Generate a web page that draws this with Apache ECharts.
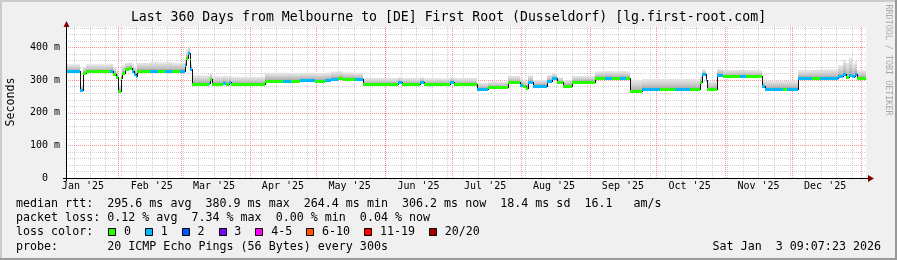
<!DOCTYPE html>
<html><head><meta charset="utf-8">
<script src="https://cdn.jsdelivr.net/npm/echarts@6/dist/echarts.min.js"></script>
<style>html,body{margin:0;padding:0;background:#f0f0f0;}#c{width:897px;height:260px;}</style>
</head><body><div id="c"></div>
<script>
// ---------- data ----------
// segment start, in days from the start of the 360-day window
const segDay = [0,6.1,7.7,9.0,19.8,21.2,22.3,23.4,24.8,25.4,26.6,28.4,29.7,30.6,31.3,32.0,37.8,41.4,44.6,47.7,51.3,53.6,54.2,54.9,55.6,56.0,56.7,64.4,65.0,65.7,70.7,72.0,73.4,74.3,89.6,97.7,101.3,105.3,112.0,116.6,119.3,122.4,124.7,130.0,133.7,149.4,151.2,159.3,161.1,172.8,174.6,185.0,190.0,199.0,204.3,205.6,207.0,207.9,210.2,216.5,218.7,220.9,223.7,227.7,238.0,242.6,245.7,249.3,252.0,253.8,259.2,267.3,274.0,280.8,285.3,286.4,287.8,288.5,293.0,295.6,303.3,306.0,313.2,314.5,322.6,324.4,329.4,335.7,339.3,347.4,349.6,351.0,352.4,353.7,355.0,356.0];
// median rtt (ms)
const median = [327,268,322,326,327,318,310,265,305,322,333,336,328,318,312,328,327,327,327,327,328,345,366,381,360,335,289,290,302,288,292,288,293,287,298,298,298,299,298,299,304,305,303,302,287,293,287,294,287,295,287,273,278,293,286,280,276,295,283,298,305,293,283,295,306,307,306,306,306,265,272,272,272,272,295,317,300,272,316,311,311,311,281,273,273,273,306,306,306,312,318,308,316,312,318,306];
// top of the smoke (ms)
const smokeTop = [348,286,340,348,350,340,332,285,322,345,352,354,350,342,336,352,355,354,355,352,354,366,392,402,385,352,314,318,320,311,313,311,313,310,322,322,321,322,321,322,325,326,323,322,306,308,306,308,305,308,306,291,295,312,305,300,296,314,300,315,320,308,300,312,326,327,326,327,326,300,303,303,303,303,312,332,316,296,334,331,331,330,300,298,297,298,330,331,332,345,362,352,368,350,358,330];
// lost pings per sample (index into loss colour table)
const loss = [1,1,0,0,1,0,0,0,0,0,0,0,1,1,1,0,1,0,1,0,1,1,0,1,0,1,0,1,0,0,1,0,1,0,0,1,0,1,0,1,1,0,0,1,0,1,0,1,0,1,0,1,0,0,1,0,0,1,1,1,1,0,0,0,0,1,0,1,0,0,1,0,1,0,0,1,1,0,1,0,1,0,1,1,0,1,1,0,1,1,1,0,1,1,1,0];

const monthLabels = ["Jan '25","Feb '25","Mar '25","Apr '25","May '25","Jun '25","Jul '25","Aug '25","Sep '25","Oct '25","Nov '25","Dec '25"];
const labelMonths = [[2025,0],[2025,1],[2025,2],[2025,3],[2025,4],[2025,5],[2025,6],[2025,7],[2025,8],[2025,9],[2025,10],[2025,11]];
const gridMonths = [[2025,1],[2025,2],[2025,3],[2025,4],[2025,5],[2025,6],[2025,7],[2025,8],[2025,9],[2025,10],[2025,11],[2026,0]];
const yTicks = [0,100,200,300,400];
const lossLabels = ['0','1','2','3','4-5','6-10','11-19','20/20'];
const lossColors = ['#26ff00','#00b8ff','#0059ff','#7e00ff','#ff00ff','#ff5500','#ff0000','#a10000'];

const legendLines = [
  'median rtt:  295.6 ms avg  380.9 ms max  264.4 ms min  306.2 ms now  18.4 ms sd  16.1   am/s',
  'packet loss: 0.12 % avg  7.34 % max  0.00 % min  0.04 % now'
];
const probeLine = 'probe:       20 ICMP Echo Pings (56 Bytes) every 300s';
const stamp = 'Sat Jan  3 09:07:23 2026';
const title = 'Last 360 Days from Melbourne to [DE] First Root (Dusseldorf) [lg.first-root.com]';

// ---------- derived ----------
const SPAN = 360, YMAX = 462;
const endMs = Date.UTC(2026,0,3,9,7,23);
const startMs = endMs - SPAN*864e5;
const dayOf = (y,m,d) => (Date.UTC(y,m,d||1) - startMs)/864e5;
const monthLines = gridMonths.map(([y,m]) => [dayOf(y,m), 0]);
const labelDays = labelMonths.map(([y,m]) => [dayOf(y,m) + 15, 0]);
const weekLines = [];
for (let d = dayOf(2025,0,12); d < SPAN; d += 7) weekLines.push([d, 0]);
const minorY = [], majorY = [];
for (let v = 20; v < YMAX; v += 20) (v % 100 === 0 ? majorY : minorY).push([0, v]);

const segs = segDay.map((d,i) => [d, i < segDay.length-1 ? segDay[i+1] : SPAN, median[i], smokeTop[i], loss[i], i > 0 ? median[i-1] : median[i]]);

const MONO = 'DejaVu Sans Mono';
const F = (s) => s + 'px "' + MONO + '"';

function vline(color){
  return function(params, api){
    const x = Math.round(api.coord([api.value(0), 0])[0]) + 0.5;
    const yb = api.coord([0,0])[1], yt = api.coord([0,YMAX])[1];
    return {type:'line', shape:{x1:x, y1:yt, x2:x, y2:yb}, style:{stroke:color, lineWidth:1, lineDash:[1,1]}};
  };
}
function hline(color){
  return function(params, api){
    const y = Math.round(api.coord([0, api.value(1)])[1]) + 0.5;
    const xl = api.coord([0,0])[0], xr = api.coord([SPAN,0])[0];
    return {type:'line', shape:{x1:xl, y1:y, x2:xr, y2:y}, style:{stroke:color, lineWidth:1, lineDash:[1,1]}};
  };
}
const GRAY = '#cfcfcf', RED = 'rgba(255,40,40,0.5)';

function renderSmoke(params, api){
  const x0 = api.value(0), x1 = api.value(1), m = api.value(2), t = api.value(3);
  const fr = [1, 0.78, 0.58, 0.4, 0.22];
  const cols = ['#e4e4e4','#d8d8d8','#cccccc','#bfbfbf','#b0b0b0'];
  const children = fr.map((f,k) => {
    const p0 = api.coord([x0, m + (t-m)*f]);
    const p1 = api.coord([x1, m - 3]);
    const xa = Math.round(p0[0]), xb = Math.round(p1[0]);
    return {type:'rect', shape:{x:xa, y:p0[1], width:Math.max(1,xb-xa), height:p1[1]-p0[1]}, style:{fill:cols[k]}};
  });
  return {type:'group', children};
}
function renderMedian(params, api){
  const x0 = api.value(0), x1 = api.value(1), m = api.value(2), l = api.value(4), pm = api.value(5);
  const a = api.coord([x0, m]), b = api.coord([x1, m]), pp = api.coord([x0, pm]);
  const xa = Math.round(a[0]), xb = Math.round(b[0]);
  const ya = Math.round(a[1]), yp = Math.round(pp[1]);
  const children = [];
  if (ya !== yp) children.push({type:'line', shape:{x1:xa+0.5, y1:Math.min(ya,yp), x2:xa+0.5, y2:Math.max(ya,yp)+1}, style:{stroke:'#111', lineWidth:1}});
  children.push({type:'rect', shape:{x:xa, y:ya-1, width:Math.max(1,xb-xa), height:3}, style:{fill:lossColors[l]}});
  return {type:'group', children};
}
function renderXLabel(params, api){
  const p = api.coord([api.value(0), 0]);
  return {type:'text', x:p[0], y:p[1]+3, style:{text:monthLabels[params.dataIndex], font:F(10), fill:'#000', align:'center', verticalAlign:'top'}};
}

// ---------- graphics (frame, axes, texts) ----------
const G = [];
G.push({type:'rect', shape:{x:0,y:0,width:897,height:2}, style:{fill:'#cbcbcb'}, silent:true});
G.push({type:'rect', shape:{x:0,y:0,width:2,height:260}, style:{fill:'#cbcbcb'}, silent:true});
G.push({type:'rect', shape:{x:0,y:258,width:897,height:2}, style:{fill:'#999'}, silent:true});
G.push({type:'rect', shape:{x:895,y:0,width:2,height:260}, style:{fill:'#999'}, silent:true});
G.push({type:'line', shape:{x1:63,y1:178.5,x2:869,y2:178.5}, style:{stroke:'#000',lineWidth:1}, z:100});
G.push({type:'polygon', shape:{points:[[868,175],[874,178.5],[868,182]]}, style:{fill:'#7f0000'}, z:100});
G.push({type:'line', shape:{x1:66.5,y1:181,x2:66.5,y2:26}, style:{stroke:'#000',lineWidth:1}, z:100});
G.push({type:'polygon', shape:{points:[[63.5,27],[66.5,21],[69.5,27]]}, style:{fill:'#7f0000'}, z:100});
G.push({type:'text', x:448.5, y:18, style:{text:title, font:F(13.2), fill:'#000', align:'center', verticalAlign:'middle'}});
G.push({type:'text', x:11, y:102, rotation:Math.PI/2, style:{text:'Seconds', font:F(11.67), fill:'#000', align:'center', verticalAlign:'middle'}});
G.push({type:'text', x:888, y:60, rotation:-Math.PI/2, style:{text:'RRDTOOL / TOBI OETIKER', font:F(8.4), fill:'#a8a8a8', align:'center', verticalAlign:'middle'}});
const LY = [204.3, 218.2, 232.3, 246.6];
legendLines.forEach((t,i) => G.push({type:'text', x:16, y:LY[i], style:{text:t, font:F(11.67), fill:'#000', align:'left', verticalAlign:'middle'}}));
G.push({type:'text', x:16, y:LY[2], style:{text:'loss color:', font:F(11.67), fill:'#000', align:'left', verticalAlign:'middle'}});
let bx = 108.3;
const CW = 7.03;
lossLabels.forEach((t,i) => {
  G.push({type:'rect', shape:{x:Math.round(bx)+0.5, y:228.5, width:7, height:7}, style:{fill:lossColors[i], stroke:'#000', lineWidth:1}});
  G.push({type:'text', x:bx+15.7, y:LY[2], style:{text:t, font:F(11.67), fill:'#000', align:'left', verticalAlign:'middle'}});
  bx += 15.7 + t.length*CW + 2*CW;
});
G.push({type:'text', x:16, y:LY[3], style:{text:probeLine, font:F(11.67), fill:'#000', align:'left', verticalAlign:'middle'}});
G.push({type:'text', x:881, y:LY[3], style:{text:stamp, font:F(11.67), fill:'#000', align:'right', verticalAlign:'middle'}});

const chart = echarts.init(document.getElementById('c'), null, {renderer:'canvas'});
chart.setOption({
  animation:false,
  backgroundColor:'#f0f0f0',
  grid:{left:66, top:27, width:800, height:151, show:true, backgroundColor:'#ffffff', borderWidth:0},
  xAxis:{type:'value', min:0, max:SPAN, axisLine:{show:false}, axisTick:{show:false}, axisLabel:{show:false}, splitLine:{show:false}},
  yAxis:{type:'value', min:0, max:YMAX, interval:100, axisLine:{show:false}, axisTick:{show:false}, splitLine:{show:false},
    axisLabel:{margin:6, color:'#000', fontFamily:MONO, fontSize:10,
      formatter:(v) => yTicks.indexOf(v) < 0 ? '' : (v === 0 ? '0  ' : v + ' m')}},
  series:[
    {type:'custom', z:1, silent:true, data:minorY, encode:{x:0,y:1}, renderItem:hline(GRAY)},
    {type:'custom', z:1, silent:true, data:weekLines, encode:{x:0,y:1}, renderItem:vline(GRAY)},
    {type:'custom', z:1, silent:true, data:majorY, encode:{x:0,y:1}, renderItem:hline(RED)},
    {type:'custom', z:1, silent:true, data:monthLines, encode:{x:0,y:1}, renderItem:vline(RED)},
    {type:'custom', z:2, silent:true, data:segs, encode:{x:[0,1], y:[2,3]}, renderItem:renderSmoke},
    {type:'custom', z:3, silent:true, data:segs, encode:{x:[0,1], y:[2,3]}, renderItem:renderMedian},
    {type:'custom', z:3, silent:true, clip:false, data:labelDays, encode:{x:0,y:1}, renderItem:renderXLabel}
  ],
  graphic:G
});
</script></body></html>
